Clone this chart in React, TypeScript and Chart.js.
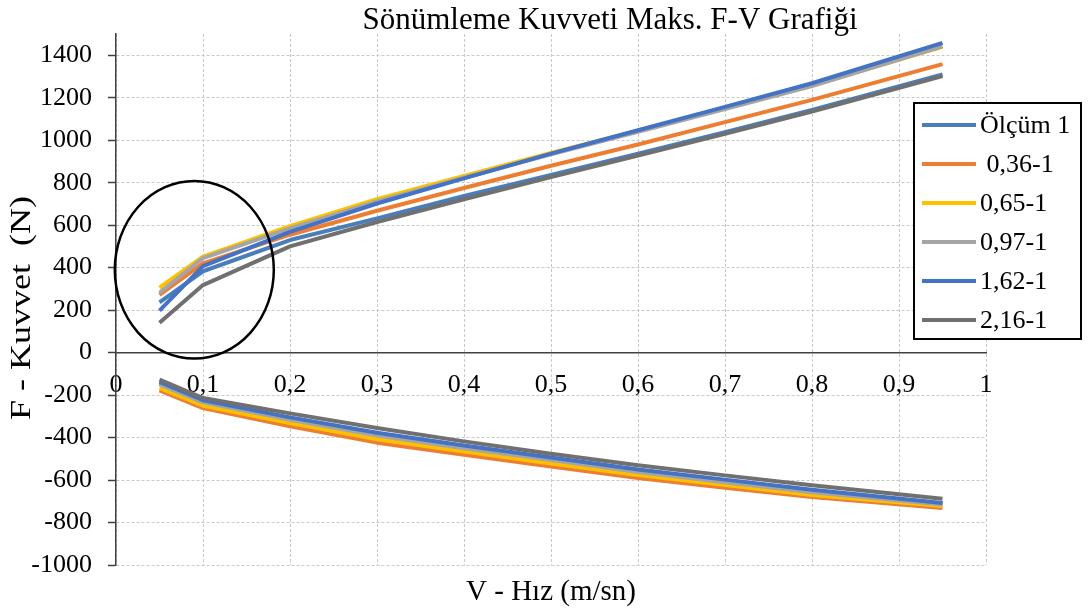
import React, { useEffect, useRef } from 'react';
import { Chart, registerables } from 'chart.js';

Chart.register(...registerables);

const FONT = "'Liberation Serif', 'Times New Roman', serif";

const TITLE = 'Sönümleme Kuvveti Maks. F-V Grafiği';
const X_TITLE = 'V - Hız (m/sn)';
const Y_TITLE = 'F - Kuvvet  (N)';

const SERIES_NAMES = ['Ölçüm 1', ' 0,36-1', '0,65-1', '0,97-1', '1,62-1', '2,16-1'];
const SERIES_COLORS = ['#4a7ebb', '#ed7d31', '#ffc000', '#a5a5a5', '#4472c4', '#707070'];

const X_TICK_LABELS = ['0', '0,1', '0,2', '0,3', '0,4', '0,5', '0,6', '0,7', '0,8', '0,9', '1'];

const VELOCITY = [0.05, 0.1, 0.2, 0.3, 0.4, 0.5, 0.6, 0.7, 0.8, 0.95];

// compression (positive) forces
const OLCUM1_BASKI = [237, 383, 530, 632, 737, 837, 937, 1038, 1142, 1310];
const S036_BASKI = [272, 420, 555, 668, 775, 880, 980, 1085, 1190, 1358];
const S065_BASKI = [306, 452, 595, 722, 832, 940, 1045, 1150, 1258, 1440];
const S097_BASKI = [282, 445, 585, 712, 823, 933, 1040, 1147, 1255, 1442];
const S162_BASKI = [198, 407, 568, 702, 820, 937, 1047, 1157, 1268, 1458];
const S216_BASKI = [141, 318, 500, 615, 722, 826, 928, 1030, 1135, 1302];

// rebound (negative) forces
const OLCUM1_CEKME = [-142, -228, -310, -382, -443, -500, -556, -604, -652, -712];
const S036_CEKME = [-178, -261, -347, -424, -481, -536, -590, -636, -680, -732];
const S065_CEKME = [-166, -250, -332, -408, -466, -522, -576, -624, -670, -722];
const S097_CEKME = [-150, -234, -316, -390, -450, -506, -562, -610, -657, -715];
const S162_CEKME = [-138, -224, -305, -377, -437, -494, -550, -598, -646, -708];
const S216_CEKME = [-127, -214, -286, -355, -418, -476, -530, -578, -625, -688];

const BASKI = [OLCUM1_BASKI, S036_BASKI, S065_BASKI, S097_BASKI, S162_BASKI, S216_BASKI];
const CEKME = [OLCUM1_CEKME, S036_CEKME, S065_CEKME, S097_CEKME, S162_CEKME, S216_CEKME];

// highlight ellipse in data units
const ELLIPSE_CENTER_X = 0.09;
const ELLIPSE_CENTER_Y = 390;
const ELLIPSE_RADIUS_X = 0.0914;
const ELLIPSE_RADIUS_Y = 418;

function buildPoints(i: number) {
  const pts: { x: number; y: number | null }[] = [];
  VELOCITY.forEach((v, k) => pts.push({ x: v, y: BASKI[i][k] }));
  pts.push({ x: VELOCITY[VELOCITY.length - 1], y: null });
  VELOCITY.forEach((v, k) => pts.push({ x: v, y: CEKME[i][k] }));
  return pts;
}

const overlayPlugin = {
  id: 'overlay',
  afterDatasetsDraw(chart: any) {
    const { ctx, scales } = chart;
    const xs = scales.x;
    const ys = scales.y;
    const cx = xs.getPixelForValue(ELLIPSE_CENTER_X);
    const cy = ys.getPixelForValue(ELLIPSE_CENTER_Y);
    const rx = Math.abs(xs.getPixelForValue(ELLIPSE_CENTER_X + ELLIPSE_RADIUS_X) - cx);
    const ry = Math.abs(ys.getPixelForValue(ELLIPSE_CENTER_Y + ELLIPSE_RADIUS_Y) - cy);
    ctx.save();
    ctx.beginPath();
    ctx.ellipse(cx, cy, rx, ry, 0, 0, Math.PI * 2);
    ctx.lineWidth = 2.5;
    ctx.strokeStyle = '#000';
    ctx.stroke();
    ctx.restore();
  },
  afterDraw(chart: any) {
    const { ctx } = chart;
    ctx.save();
    // title
    ctx.font = `31px ${FONT}`;
    ctx.fillStyle = '#000';
    ctx.textAlign = 'center';
    ctx.textBaseline = 'alphabetic';
    ctx.fillText(TITLE, 610, 29);
    // y axis title (rotated)
    ctx.save();
    ctx.translate(22, 308);
    ctx.rotate(-Math.PI / 2);
    ctx.scale(1.2, 1);
    ctx.font = `30px ${FONT}`;
    ctx.textAlign = 'center';
    ctx.textBaseline = 'middle';
    ctx.fillText(Y_TITLE, 0, 0);
    ctx.restore();
    // legend
    const left = 914;
    const top = 103;
    const w = 167;
    const h = 236;
    ctx.fillStyle = '#fff';
    ctx.fillRect(left, top, w, h);
    ctx.lineWidth = 2;
    ctx.strokeStyle = '#000';
    ctx.strokeRect(left, top, w, h);
    ctx.font = `26px ${FONT}`;
    ctx.textBaseline = 'middle';
    ctx.textAlign = 'left';
    SERIES_NAMES.forEach((name, i) => {
      const y = top + 22 + i * 39;
      ctx.beginPath();
      ctx.moveTo(left + 8, y);
      ctx.lineTo(left + 62, y);
      ctx.lineWidth = 4;
      ctx.strokeStyle = SERIES_COLORS[i];
      ctx.stroke();
      ctx.fillStyle = '#000';
      ctx.fillText(name, left + 66, y + 1);
    });
    ctx.restore();
  },
};

export default function App() {
  const ref = useRef<HTMLCanvasElement>(null);
  useEffect(() => {
    document.body.style.margin = '0';
    const datasets = SERIES_NAMES.map((name, i) => ({
      label: name,
      data: buildPoints(i),
      borderColor: SERIES_COLORS[i],
      backgroundColor: SERIES_COLORS[i],
      borderWidth: 4,
      pointRadius: 0,
      pointHoverRadius: 0,
      fill: false,
      tension: 0,
      spanGaps: false,
      borderJoinStyle: 'round' as const,
    })).reverse();
    const tickFont = { family: FONT, size: 26 };
    const chart = new Chart(ref.current!, {
      type: 'line',
      data: { datasets },
      options: {
        responsive: false,
        animation: false,
        layout: { padding: { left: 0, right: 102, top: 34, bottom: 0 } },
        plugins: {
          legend: { display: false },
          tooltip: { enabled: false },
          title: { display: false },
        },
        scales: {
          x: {
            type: 'linear',
            axis: 'x',
            min: 0,
            max: 1,
            position: { y: 0 },
            ticks: {
              stepSize: 0.1,
              padding: 17,
              color: '#000',
              font: tickFont,
              maxRotation: 0,
              autoSkip: false,
              callback: (_v: any, i: number) => X_TICK_LABELS[i],
            },
            grid: { color: '#c8c8c8', lineWidth: 1, drawTicks: false },
            border: { display: true, color: '#404040', width: 1.5, dash: [3, 2] },
          },
          xb: {
            type: 'linear',
            axis: 'x',
            position: 'bottom',
            min: 0,
            max: 1,
            ticks: { display: false },
            grid: { display: false, drawTicks: false },
            border: { display: false },
            title: {
              display: true,
              text: X_TITLE,
              color: '#000',
              font: { family: FONT, size: 29 },
              padding: { top: 0, bottom: 5 },
            },
            afterFit: (s: any) => {
              s.height = 50;
            },
          },
          y: {
            type: 'linear',
            min: -1000,
            max: 1500,
            ticks: {
              stepSize: 200,
              includeBounds: false,
              padding: 16,
              color: '#000',
              font: tickFont,
              callback: (v: any) => String(v),
            },
            grid: { color: '#c8c8c8', lineWidth: 1, tickLength: 8, tickColor: '#404040', tickWidth: 1.5 },
            border: { display: true, color: '#404040', width: 1.5, dash: [3, 2] },
            title: { display: false },
            afterFit: (s: any) => {
              s.width = 116;
            },
          },
        },
      } as any,
      plugins: [overlayPlugin],
    });
    return () => chart.destroy();
  }, []);
  return (
    <div style={{ position: 'absolute', left: 0, top: 0, width: 1088, height: 615, background: '#fff' }}>
      <canvas ref={ref} width={1088} height={615} style={{ display: 'block', width: 1088, height: 615 }} />
    </div>
  );
}
